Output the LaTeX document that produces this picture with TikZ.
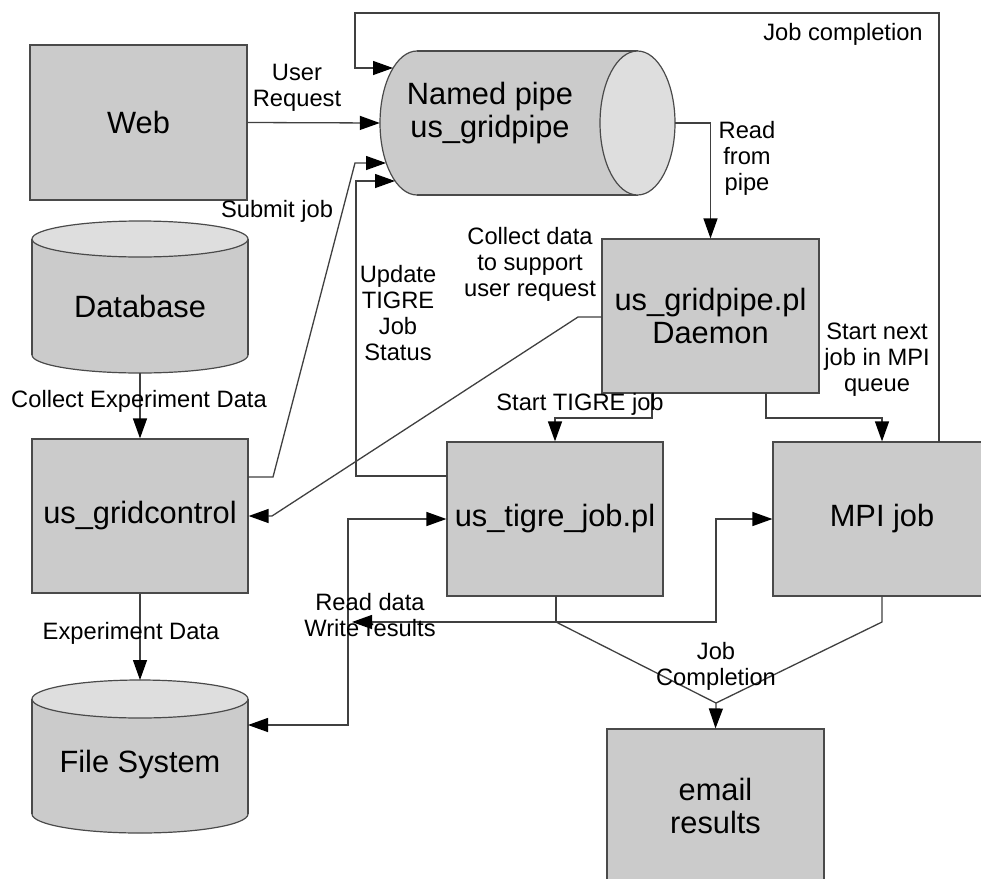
\documentclass[tikz,border=0pt]{standalone}
\usepackage{fontspec}
\setmainfont{Liberation Sans}
\usetikzlibrary{arrows.meta}
\definecolor{boxc}{HTML}{CBCBCB}
\definecolor{endc}{HTML}{DEDEDE}
\definecolor{bordc}{HTML}{4A4A4A}
\definecolor{linec}{HTML}{404040}
\tikzset{
  box/.style={draw=bordc, fill=boxc, line width=1.2pt, inner sep=0pt, align=center,
    font=\fontsize{30.8}{33}\selectfont},
  anchorbox/.style={draw=none, fill=none, inner sep=0pt},
  bigtxt/.style={inner sep=0pt, align=center, font=\fontsize{30.8}{33}\selectfont},
  lbl/.style={inner sep=0pt, align=center, font=\fontsize{23.7}{26}\selectfont},
  ln/.style={draw=linec, line width=1.3pt},
  tip/.tip={Triangle[length=20pt,width=14pt,color=black]},
  arr/.style={ln, -tip},
  darr/.style={ln, tip-tip},
  cylbody/.style={fill=boxc, draw=bordc, line width=1.2pt},
  cylend/.style={fill=endc, draw=bordc, line width=1.2pt}
}
\begin{document}
\begin{tikzpicture}[x=1pt, y=-1pt]
\useasboundingbox (0,0) rectangle (981,878);
\clip (0,0) rectangle (981,878);
\fill[white] (0,0) rectangle (981,878);

% ---- boxes ----
\node[box, minimum width=217pt, minimum height=155pt] (web) at (138.5,122.5) {Web};
\node[box, minimum width=216pt, minimum height=154pt] (gc) at (140,516) {us\_gridcontrol};
\node[box, minimum width=217pt, minimum height=154pt] (daemon) at (710.5,316) {us\_gridpipe.pl\\Daemon};
\node[box, minimum width=216pt, minimum height=154pt] (tigre) at (555,519) {us\_tigre\_job.pl};
\node[box, minimum width=218pt, minimum height=154pt] (mpi) at (882,519) {MPI job};
\node[box, minimum width=217pt, minimum height=154pt] (email) at (715.5,806) {email\\results};

% ---- Database cylinder ----
\fill[cylbody] (140,355) ellipse [x radius=108, y radius=18];
\fill[boxc] (32,239) rectangle (248,355);
\draw[bordc, line width=1.2pt] (32,239) -- (32,355) (248,239) -- (248,355);
\fill[cylend] (140,239) ellipse [x radius=108, y radius=18];
\node[anchorbox, minimum width=216pt, minimum height=152pt] (db) at (140,297) {};
\node[bigtxt] (dbtxt) at (140,306) {Database};

% ---- File System cylinder ----
\fill[cylbody] (140,814) ellipse [x radius=108, y radius=19];
\fill[boxc] (32,699) rectangle (248,814);
\draw[bordc, line width=1.2pt] (32,699) -- (32,814) (248,699) -- (248,814);
\fill[cylend] (140,699) ellipse [x radius=108, y radius=19];
\node[anchorbox, minimum width=216pt, minimum height=153pt] (fs) at (140,756.5) {};
\node[bigtxt] (fstxt) at (140,765) {File System};

% ---- Named pipe (horizontal cylinder) ----
\fill[cylbody] (417,123) ellipse [x radius=37, y radius=72];
\fill[boxc] (417,51) rectangle (637.5,195);
\draw[bordc, line width=1.2pt] (417,51) -- (637.5,51) (417,195) -- (637.5,195);
\fill[cylend] (637.5,123) ellipse [x radius=37.5, y radius=72];
\node[anchorbox, minimum width=295pt, minimum height=144pt] (pipe) at (527.5,123) {};
\node[bigtxt] (pipetxt) at (490,113) {Named pipe\\us\_gridpipe};
\coordinate (pipeA) at (393,68);
\coordinate (pipeC) at (386,163);
\coordinate (pipeD) at (395,181);

% ---- connector corner points ----
\coordinate (mpiTop) at (939,442);
\coordinate (gcOut) at (248,477);
\coordinate (tigreOut) at (447,476);
\coordinate (daemonOut) at (602,317);
\coordinate (dTigre) at (652,393);
\coordinate (dMpi) at (766,393);
\coordinate (tigreBot) at (556,596);
\coordinate (jc) at (556,622);
\coordinate (jm) at (716,703);
\coordinate (rwTip) at (352,622);
\coordinate (fsIn) at (248,725);

% ---- connectors ----
\draw[arr] (mpiTop) -- (939,13) -- (355,13) -- (355,68) -- (pipeA);
\draw[arr] (web.east) -- (pipe.west);
\draw[arr] (gcOut) -- (273,477) -- (355,163) -- (pipeC);
\draw[arr] (tigreOut) -- (356,476) -- (356,181) -- (pipeD);
\draw[arr] (pipe.east) -- (710.5,123) -- (daemon.north);
\draw[arr] (daemonOut) -- (578,317) -- (272,516) -- (gc.east);
\draw[arr] (dTigre) -- (652,418) -- (555,418) -- (tigre.north);
\draw[arr] (dMpi) -- (766,418) -- (882,418) -- (mpi.north);
\draw[arr] (db.south) -- (gc.north);
\draw[arr] (gc.south) -- (140,680);
\draw[darr] (fsIn) -- (348,725) -- (348,519) -- (tigre.west);
\draw[arr] (tigreBot) -- (jc) -- (rwTip);
\draw[arr] (jc) -- (716,622) -- (716,519) -- (mpi.west);
\draw[ln] (jc) -- (jm);
\draw[ln] (mpi.south) -- (882,622) -- (jm);
\draw[arr] (jm) -- (email.north);

% ---- labels ----
\node[lbl] (l1) at (297,88) {User\\Request};
\node[lbl] (l2) at (277,211) {Submit job};
\node[lbl] (l3) at (843,34) {Job completion};
\node[lbl] (l4) at (747,158) {Read\\from\\pipe};
\node[lbl] (l5) at (530,264) {Collect data\\to support\\user request};
\node[lbl] (l6) at (398,313) {Update\\TIGRE\\Job\\Status};
\node[lbl] (l7) at (580,404) {Start TIGRE job};
\node[lbl] (l8) at (877,360) {Start next\\job in MPI\\queue};
\node[lbl] (l9) at (139,401) {Collect Experiment Data};
\node[lbl] (l10) at (131,633) {Experiment Data};
\node[lbl] (l11) at (370,615) {Read data\\Write results};
\node[lbl] (l12) at (716,666) {Job\\Completion};
\end{tikzpicture}
\end{document}
